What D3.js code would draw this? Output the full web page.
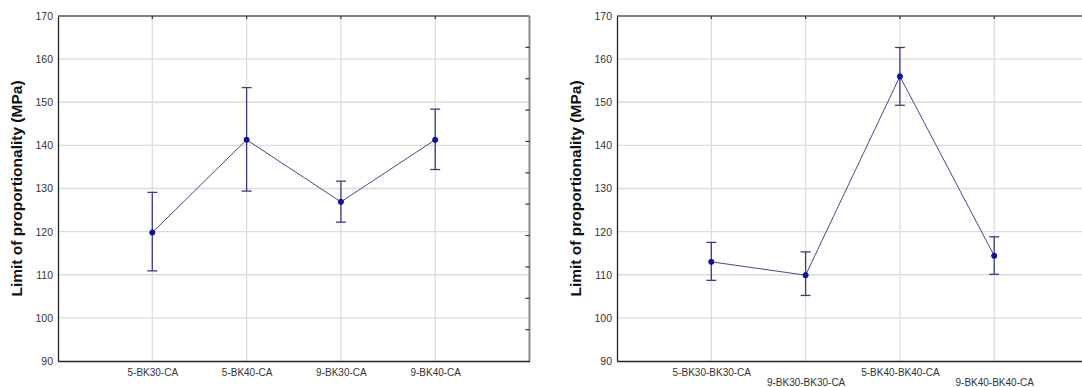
<!DOCTYPE html>
<html>
<head>
<meta charset="utf-8">
<script src="https://cdn.jsdelivr.net/npm/d3@7"></script>
<style>
  body { margin: 0; background: #fff; }
  svg { display: block; font-family: "Liberation Sans", Arial, sans-serif; }
</style>
</head>
<body>
<script>
// chart data
var leftCats = ["5-BK30-CA", "5-BK40-CA", "9-BK30-CA", "9-BK40-CA"];
var leftMean = [119.8, 141.3, 126.9, 141.3];
var leftLow = [110.9, 129.4, 122.2, 134.4];
var leftHigh = [129.1, 153.4, 131.7, 148.4];

var rightCats = ["5-BK30-BK30-CA", "9-BK30-BK30-CA", "5-BK40-BK40-CA", "9-BK40-BK40-CA"];
var rightMean = [113.0, 109.9, 156.0, 114.4];
var rightLow = [108.7, 105.2, 149.3, 110.1];
var rightHigh = [117.5, 115.3, 162.7, 118.8];

var yTicks = [90, 100, 110, 120, 130, 140, 150, 160, 170];
var yTitle = "Limit of proportionality (MPa)";

var w = 1082, h = 387;
var svg = d3.select("body").append("svg").attr("width", w).attr("height", h);

function panel(x0, cats, mean, low, high, stagger) {
  var top = 16, bottom = 361, step = 94.3;
  var x = d3.scaleLinear().domain([0, 5]).range([x0, x0 + 5 * step]);
  var y = d3.scaleLinear().domain([90, 170]).range([bottom, top]);
  var yr = d3.scaleLinear().domain([0, 11]).range([bottom, top]);
  var g = svg.append("g");

  // grid
  g.selectAll(".hg").data(yTicks.slice(1, -1)).enter().append("line")
    .attr("x1", x(0)).attr("x2", x(5))
    .attr("y1", d => y(d)).attr("y2", d => y(d))
    .style("stroke", "#dcdcdc").style("stroke-width", 1.3);
  g.selectAll(".vg").data(cats).enter().append("line")
    .attr("x1", (d, i) => x(i + 1)).attr("x2", (d, i) => x(i + 1))
    .attr("y1", top).attr("y2", bottom)
    .style("stroke", "#dcdcdc").style("stroke-width", 1.3);

  // frame: top and right grey
  g.append("line").attr("x1", x(0)).attr("x2", x(5)).attr("y1", top).attr("y2", top)
    .style("stroke", "#808080").style("stroke-width", 2);
  g.append("line").attr("x1", x(5)).attr("x2", x(5)).attr("y1", top).attr("y2", bottom)
    .style("stroke", "#8a8a8a").style("stroke-width", 2);

  // right side small ticks
  g.selectAll(".rt").data(d3.range(1, 11)).enter().append("line")
    .attr("x1", x(5) - 4).attr("x2", x(5))
    .attr("y1", d => yr(d)).attr("y2", d => yr(d))
    .style("stroke", "#333").style("stroke-width", 1.2);
  // top ticks at categories
  g.selectAll(".tt").data(cats).enter().append("line")
    .attr("x1", (d, i) => x(i + 1)).attr("x2", (d, i) => x(i + 1))
    .attr("y1", top).attr("y2", top + 3)
    .style("stroke", "#333").style("stroke-width", 1.2);

  // left axis
  var ya = g.append("g").attr("transform", "translate(" + x(0) + ",0)")
    .call(d3.axisLeft(y).tickValues(yTicks).tickSize(0).tickPadding(5));
  ya.select(".domain").style("stroke", "#222").style("stroke-width", 1.3);
  ya.selectAll("text").style("font-size", "10.5px").style("fill", "#333");

  // bottom axis
  var xa = g.append("g").attr("transform", "translate(0," + bottom + ")")
    .call(d3.axisBottom(x).tickValues([1, 2, 3, 4]).tickSize(0)
      .tickFormat(d => cats[d - 1]));
  xa.select(".domain").style("stroke", "#222").style("stroke-width", 1.3);
  xa.selectAll("text").style("font-size", "10px").style("fill", "#333")
    .attr("dy", null)
    .attr("y", (d, i) => stagger && i % 2 == 1 ? 25 : 15);

  // title
  g.append("text")
    .attr("transform", "translate(" + (x0 - 36) + "," + ((top + bottom) / 2) + ") rotate(-90)")
    .attr("text-anchor", "middle")
    .style("font-size", "15.5px").style("font-weight", "bold").style("fill", "#111")
    .text(yTitle);

  // error bars
  var eb = g.selectAll(".eb").data(cats).enter().append("g");
  eb.append("line")
    .attr("x1", (d, i) => x(i + 1)).attr("x2", (d, i) => x(i + 1))
    .attr("y1", (d, i) => y(low[i])).attr("y2", (d, i) => y(high[i]))
    .style("stroke", "#3c3c80").style("stroke-width", 1.3);
  eb.append("line")
    .attr("x1", (d, i) => x(i + 1) - 5).attr("x2", (d, i) => x(i + 1) + 5)
    .attr("y1", (d, i) => y(high[i])).attr("y2", (d, i) => y(high[i]))
    .style("stroke", "#3c3c80").style("stroke-width", 1.3);
  eb.append("line")
    .attr("x1", (d, i) => x(i + 1) - 5).attr("x2", (d, i) => x(i + 1) + 5)
    .attr("y1", (d, i) => y(low[i])).attr("y2", (d, i) => y(low[i]))
    .style("stroke", "#3c3c80").style("stroke-width", 1.3);

  // mean line
  var line = d3.line().x((d, i) => x(i + 1)).y(d => y(d));
  g.append("path").attr("d", line(mean))
    .style("fill", "none").style("stroke", "#4a4a88").style("stroke-width", 1);

  g.selectAll(".pt").data(mean).enter().append("circle")
    .attr("cx", (d, i) => x(i + 1)).attr("cy", d => y(d)).attr("r", 2.6)
    .style("fill", "#1010b0").style("stroke", "#000080").style("stroke-width", 0.8);
}

panel(58, leftCats, leftMean, leftLow, leftHigh, false);
panel(617, rightCats, rightMean, rightLow, rightHigh, true);
</script>
</body>
</html>
